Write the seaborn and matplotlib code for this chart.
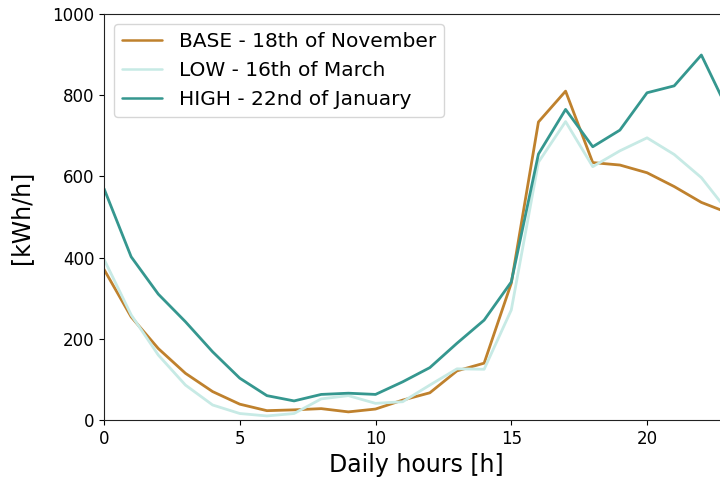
import pandas as pd
import matplotlib
matplotlib.use('Agg')
import matplotlib.pyplot as plt
import seaborn as sns

hours = list(range(24))
base = [371, 254, 176, 115, 70, 39, 23, 25, 28, 20, 27, 49, 67, 121, 140, 337,
        734, 810, 634, 628, 609, 575, 536, 510]
low = [396, 259, 160, 86, 37, 16, 10, 16, 52, 60, 41, 45, 86, 126, 125, 271,
       635, 735, 624, 663, 695, 654, 597, 512]
high = [570, 402, 310, 242, 168, 103, 60, 47, 63, 66, 63, 94, 129, 189, 246, 340,
        655, 765, 673, 714, 806, 823, 899, 760]
labels = ['BASE - 18th of November', 'LOW - 16th of March', 'HIGH - 22nd of January']
colors = ['#bf812d', '#c7eae5', '#35978f']

df = pd.DataFrame({
    'hour': hours * 3,
    'value': base + low + high,
    'day': [labels[0]] * 24 + [labels[1]] * 24 + [labels[2]] * 24,
})

sns.set_style('ticks')
plt.rcParams['font.family'] = ['DejaVu Sans']
plt.rcParams['text.color'] = 'black'
plt.rcParams['axes.labelcolor'] = 'black'
plt.rcParams['xtick.color'] = 'black'
plt.rcParams['ytick.color'] = 'black'
plt.rcParams['axes.edgecolor'] = '#222222'

fig = plt.figure(figsize=(7.2, 4.84), dpi=100)
ax = fig.add_axes([104 / 720, 64 / 484, 624.5 / 720, 406 / 484])
sns.lineplot(data=df, x='hour', y='value', hue='day', palette=colors,
             linewidth=2, ax=ax)
ax.set_xlim(0, 23)
ax.set_ylim(0, 1000)
ax.set_xticks([0, 5, 10, 15, 20])
ax.set_yticks([0, 200, 400, 600, 800, 1000])
ax.tick_params(labelsize=12)
ax.set_xlabel('Daily hours [h]', fontsize=17)
ax.set_ylabel('[kWh/h]', fontsize=17, labelpad=14)
leg = ax.legend(loc='upper left', fontsize=14.5)
for line in leg.get_lines():
    line.set_linewidth(1.8)
fig.savefig('out.png', dpi=100)
